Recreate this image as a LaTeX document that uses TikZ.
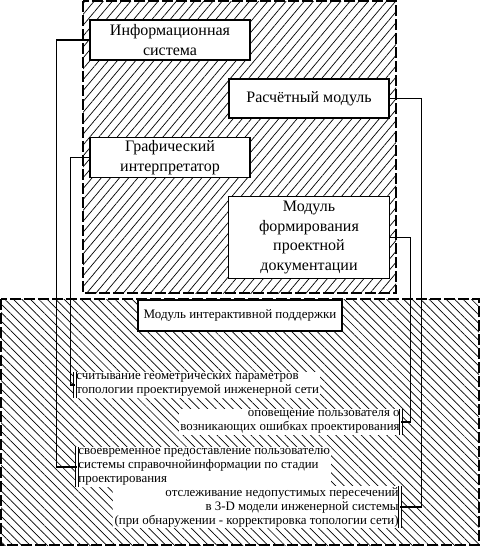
\documentclass[tikz,border=0pt]{standalone}
\usepackage{fontspec}
\setmainfont{Liberation Serif}
\usetikzlibrary{positioning,patterns.meta}

\begin{document}
\begin{tikzpicture}[x=1pt,y=-1pt,
		modbox/.style={draw,fill=white,line width=1.5pt,align=center,
			font=\fontsize{16}{19.5}\selectfont,inner sep=1pt},
		notetext/.style={fill=white,inner sep=1.2pt,
			font=\fontsize{12.9}{14}\selectfont},
		bar/.style={draw,double,double distance=1.4pt,line width=0.9pt},
		link/.style={draw,line width=1.2pt},
		zone/.style={line width=1.6pt,dash pattern=on 11pt off 3pt}
		]
		\useasboundingbox (0,0) rectangle (480,549);
		% hatched zones
		\fill[pattern={Lines[angle=50,distance=7pt,line width=0.7pt]}]
			(83,1) rectangle (396,293);
		\draw[zone] (83,1) rectangle (396,293);
		\fill[pattern={Lines[angle=-45,distance=6pt,line width=0.7pt]}]
			(1,299) rectangle (479,545);
		\draw[zone] (1,299) rectangle (479,545);

		\node[modbox, minimum width=160, minimum height=40] (info) at (170,40)
			{Информационная\\система};
		\node[modbox, minimum width=160, minimum height=40, below=76pt of info]
			(graph) {Графический\\интерпретатор};
		\node[modbox, minimum width=160, minimum height=39] (calc) at (309,98.5)
			{Расчётный модуль};
		\node[modbox, minimum width=161, minimum height=82, below=77pt of calc]
			(docs) {Модуль\\формирования\\проектной\\документации};
		\node[modbox, font=\fontsize{13}{14}\selectfont, minimum width=204,
			minimum height=31] (support) at (240,315.5)
			{Модуль интерактивной поддержки};

		\node[notetext, anchor=west, align=left] (read) at (75,385)
			{считывание геометрических параметров\\топологии проектируемой инженерной сети};
		\node[notetext, anchor=east, align=right] (notify) at (401,422)
			{оповещение пользователя о\\возникающих ошибках проектирования};
		\node[notetext, anchor=west, align=left] (help) at (77,467)
			{своевременное предоставление пользователю\\системы справочнойинформации по стадии\\проектирования};
		\node[notetext, anchor=east, align=right] (track) at (400,507)
			{отслеживание недопустимых пересечений\\в 3-D модели инженерной системы\\(при обнаружении - корректировка топологии сети)};

		\draw[bar] (read.north west) -- (read.south west);
		\draw[bar] (notify.north east) -- (notify.south east);
		\draw[bar] (help.north west) -- (help.south west);
		\draw[bar] (track.north east) -- (track.south east);

		\draw[link] (info.west) -- ++(-33,0) |- (help.west);
		\draw[link] (graph.west) -- ++(-19,0) |- (read.west);
		\draw[link] (calc.east) -- ++(32,0) |- (track.east);
		\draw[link] (docs.east) -- ++(20,0) |- (notify.east);
	\end{tikzpicture}
\end{document}
